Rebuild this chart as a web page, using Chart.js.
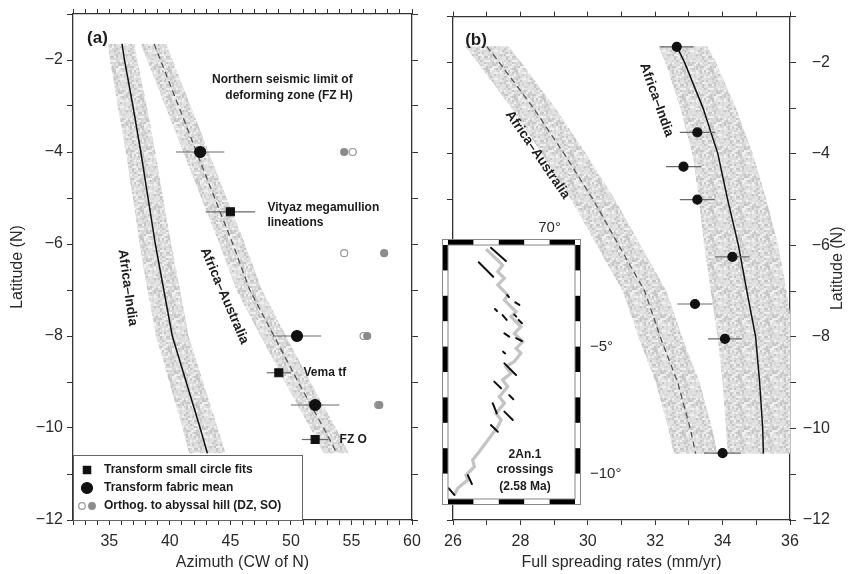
<!DOCTYPE html>
<html>
<head>
<meta charset="utf-8">
<script src="https://cdn.jsdelivr.net/npm/chart.js@4.4.1/dist/chart.umd.min.js"></script>
<style>
  html, body { margin: 0; padding: 0; background: #fff; }
  #wrap { position: relative; width: 855px; height: 574px; overflow: hidden; }
  canvas { position: absolute; }
  #azim { left: 0; top: 0; }
  #rates { left: 430px; top: 0; }
  #inset { left: 425px; top: 212px; }
</style>
</head>
<body>
<div id="wrap">
  <canvas id="azim" width="430" height="574"></canvas>
  <canvas id="rates" width="425" height="574"></canvas>
  <canvas id="inset" width="200" height="300"></canvas>
</div>
<script>
// panel (a): predicted azimuths along the ridge
const latA = [-1.65, -2, -3, -4, -5, -6, -7, -8, -9, -10, -10.55];
const indiaAzA = [36.05, 36.25, 36.95, 37.6, 38.2, 38.8, 39.5, 40.2, 41.35, 42.5, 43.1];
const indiaWestA = [34.9, 35.05, 35.7, 36.35, 36.95, 37.5, 38.15, 38.85, 39.95, 41.05, 41.6];
const indiaEastA = [37.1, 37.3, 38.1, 38.8, 39.45, 40.1, 40.85, 41.55, 42.75, 43.95, 44.6];
const ausAzA = [38.7, 39.22, 40.72, 42.2, 43.7, 45.2, 46.6, 48.6, 50.6, 52.7, 53.8];
const ausWestA = [37.6, 38.12, 39.62, 41.1, 42.6, 44.1, 45.5, 47.5, 49.5, 51.6, 52.7];
const ausEastA = [39.7, 40.22, 41.72, 43.2, 44.7, 46.2, 47.6, 49.6, 51.6, 53.7, 54.8];

// observed azimuths
const circleFitAz = [45.0, 49.0, 52.0];
const circleFitLat = [-5.3, -8.8, -10.25];
const circleFitErr = [2.05, 1.0, 1.1];
const fabricAz = [42.5, 50.5, 52.0];
const fabricLat = [-4, -8, -9.5];
const fabricErr = [2.0, 2.0, 2.0];
const hillDzAz = [55.1, 54.4, 56.0, 57.2];
const hillDzLat = [-4, -6.2, -8, -9.5];
const hillSoAz = [54.4, 57.7, 56.3, 57.3];
const hillSoLat = [-4, -6.2, -8, -9.5];

// panel (b): full spreading rates
const latB = [-1.65, -2, -3, -4, -5, -6, -7, -8, -9, -10, -10.55];
const indiaRateB = [32.64, 32.87, 33.42, 33.86, 34.15, 34.47, 34.72, 34.98, 35.10, 35.19, 35.21];
const indiaWestB = [32.1, 32.3, 32.75, 33.1, 33.3, 33.45, 33.65, 33.85, 34.0, 34.1, 34.15];
const indiaEastB = [33.55, 33.8, 34.4, 34.9, 35.3, 35.65, 35.9, 36.1, 36.2, 36.3, 36.3];
const ausRateB = [27.0, 27.37, 28.39, 29.3, 30.16, 30.92, 31.69, 32.15, 32.67, 33.04, 33.2];
const ausWestB = [26.35, 26.72, 27.74, 28.65, 29.51, 30.27, 31.04, 31.5, 32.02, 32.39, 32.55];
const ausEastB = [27.65, 28.02, 29.04, 29.95, 30.81, 31.57, 32.34, 32.8, 33.32, 33.69, 33.85];
const rateObs = [32.64, 33.25, 32.84, 33.25, 34.29, 33.18, 34.07, 34.0];
const rateObsLat = [-1.66, -3.53, -4.28, -5.0, -6.25, -7.28, -8.04, -10.54];
const rateObsErr = [0.5, 0.52, 0.52, 0.52, 0.51, 0.52, 0.5, 0.55];

// inset map: ridge trace and 2An.1 picks (lon, lat)
const ridgeLon = [67.50, 68.15, 67.96, 68.22, 67.96, 68.35, 68.22, 68.68, 68.48, 68.87, 68.61, 68.94, 68.68,
  68.87, 68.61, 68.28, 68.48, 68.15, 68.35, 68.02, 68.22, 67.89, 68.09, 67.96, 67.23, 66.97, 67.04, 66.71,
  66.78, 66.38, 66.25];
const ridgeLat = [-1.16, -1.79, -2.05, -2.31, -2.57, -2.97, -3.17, -3.63, -3.82, -4.22, -4.48, -4.81, -5.07,
  -5.26, -5.59, -5.79, -6.05, -6.31, -6.58, -6.97, -7.23, -7.63, -7.89, -8.15, -9.14, -9.46, -9.73, -10.06,
  -10.25, -10.58, -10.84];
const pickLon0 = [67.69, 67.21, 68.33, 68.65, 67.85, 68.15, 68.61, 68.78, 68.22, 68.68, 68.17, 68.22, 67.82,
  68.41, 67.76, 68.22, 67.69, 66.78, 66.03];
const pickLat0 = [-1.11, -1.68, -2.97, -3.26, -3.52, -3.76, -3.74, -3.95, -4.48, -4.67, -5.20, -5.66, -6.38,
  -6.91, -7.23, -7.56, -8.09, -10.06, -10.58];
const pickLon1 = [68.28, 67.78, 68.40, 68.81, 67.93, 68.31, 68.69, 68.91, 68.41, 68.91, 68.25, 68.68, 68.09,
  68.57, 67.92, 68.55, 67.96, 66.94, 66.25];
const pickLat1 = [-1.63, -2.25, -3.05, -3.36, -3.60, -3.95, -3.82, -4.08, -4.61, -4.78, -5.27, -6.12, -6.64,
  -7.07, -7.63, -7.89, -8.35, -10.41, -10.84];

Chart.defaults.font.family = '"Liberation Sans", Arial, Helvetica, sans-serif';
Chart.defaults.color = '#222';
Chart.defaults.animation = false;
Chart.defaults.plugins.legend.display = false;
Chart.defaults.plugins.tooltip.enabled = false;

const INK = '#2a2a2a';
const MINUS = '\u2212';
const FONT = '"Liberation Sans", Arial, sans-serif';

// grainy light grey used for the uncertainty bands (fixed hash, 2px grains)
function stipple() {
  const n = 14, cell = 2;
  const c = document.createElement('canvas');
  c.width = c.height = n * cell;
  const g = c.getContext('2d');
  for (let j = 0; j < n; j++) {
    for (let i = 0; i < n; i++) {
      const h = Math.abs(Math.sin(i * 12.9898 + j * 78.233) * 43758.5453) % 1;
      g.fillStyle = h < 0.15 ? '#c6c6c6' : h < 0.45 ? '#d7d7d7' : h < 0.8 ? '#e2e2e2' : '#f0f0f0';
      g.fillRect(i * cell, j * cell, cell, cell);
    }
  }
  return g.createPattern(c, 'repeat');
}
const speckle = stipple();

const pts = (xs, ys) => xs.map((x, i) => ({ x, y: ys[i] }));

function band(lat, west, east) {
  const poly = lat.map((y, i) => ({ x: west[i], y }));
  for (let i = lat.length - 1; i >= 0; i--) poly.push({ x: east[i], y: lat[i] });
  return { data: poly, showLine: true, fill: 'shape', backgroundColor: speckle,
    borderColor: 'rgba(0,0,0,0)', borderWidth: 0, pointRadius: 0, order: 10 };
}

function trend(xs, lat, dash) {
  return { data: pts(xs, lat), showLine: true, borderColor: dash ? '#555' : '#111',
    borderWidth: dash ? 1.3 : 1.5, borderDash: dash ? [6, 4] : [], pointRadius: 0, order: 5 };
}

function errorBars(xs, ys, err) {
  return xs.map((x, i) => ({
    data: [{ x: x - err[i], y: ys[i] }, { x: x + err[i], y: ys[i] }],
    showLine: true, borderColor: '#6a6a6a', borderWidth: 1.2, pointRadius: 0, order: 3
  }));
}

function markers(xs, ys, style, r, fill, edge) {
  return { data: pts(xs, ys), showLine: false, pointStyle: style, pointRadius: r,
    backgroundColor: fill, borderColor: edge || fill, borderWidth: 1.2, order: 1 };
}

// boxed axes with outward ticks on all four sides
function axis(pos, min, max, opts) {
  const vertical = pos === 'left' || pos === 'right';
  return {
    type: 'linear', position: pos, min, max,
    ticks: {
      stepSize: 1, autoSkip: false, maxRotation: 0, display: !!opts.label,
      padding: opts.pad || 6, font: { size: 16 }, color: INK,
      crossAlign: pos === 'right' ? 'far' : 'near',
      callback: opts.label || (() => '')
    },
    grid: { drawOnChartArea: false, drawTicks: true, tickLength: vertical ? 6 : 5, color: '#333', lineWidth: 1 },
    border: { display: true, color: '#333', width: 1.3 },
    title: opts.title ? { display: true, text: opts.title, font: { size: 16 }, color: INK,
      padding: opts.titlePad || { top: 0, bottom: 0 } } : { display: false },
    afterFit: s => { if (vertical) s.width = opts.size; else s.height = opts.size; }
  };
}

const every = n => v => (Math.round(v) % n === 0 ? (v < 0 ? MINUS + Math.abs(Math.round(v)) : String(Math.round(v))) : '');

function notes(items) {
  return {
    id: 'notes',
    afterDatasetsDraw(chart) {
      const { ctx, scales } = chart;
      items.forEach(n => {
        const px = scales.x.getPixelForValue(n.x);
        const py = scales.y.getPixelForValue(n.y);
        ctx.save();
        ctx.translate(px, py);
        if (n.rot) ctx.rotate(n.rot * Math.PI / 180);
        ctx.font = 'bold ' + (n.size || 12) + 'px ' + FONT;
        ctx.fillStyle = '#1c1c1c';
        ctx.textAlign = n.align || 'left';
        ctx.textBaseline = 'middle';
        ctx.fillText(n.text, 0, 0);
        ctx.restore();
      });
    }
  };
}

// ---------- (a) azimuth panel ----------
const legendA = {
  id: 'legendA',
  afterDatasetsDraw(chart) {
    const { ctx, chartArea: ca } = chart;
    const L = ca.left, B = ca.bottom, T = B - 65, W = 229;
    ctx.save();
    ctx.fillStyle = '#fff';
    ctx.fillRect(L, T, W, B - T);
    ctx.strokeStyle = '#666';
    ctx.lineWidth = 1;
    ctx.strokeRect(L + 0.5, T + 0.5, W, B - T);
    const row = [T + 15, T + 33, T + 51];
    const draw = (style, r, x, y, fill, edge) => {
      ctx.fillStyle = fill; ctx.strokeStyle = edge; ctx.lineWidth = 1.2;
      Chart.helpers.drawPoint(ctx, { pointStyle: style, radius: r, borderWidth: 1.2 }, x, y);
    };
    draw('rect', 5.2, L + 14, row[0], '#111', '#111');
    draw('circle', 5.5, L + 14, row[1], '#111', '#111');
    draw('circle', 3.3, L + 9, row[2], '#fff', '#999');
    draw('circle', 3.3, L + 19, row[2], '#8c8c8c', '#8c8c8c');
    ctx.font = 'bold 12px ' + FONT;
    ctx.fillStyle = '#1c1c1c';
    ctx.textBaseline = 'middle';
    ctx.fillText('Transform small circle fits', L + 31, row[0]);
    ctx.fillText('Transform fabric mean', L + 31, row[1]);
    ctx.fillText('Orthog. to abyssal hill (DZ, SO)', L + 31, row[2]);
    ctx.restore();
  }
};

new Chart(document.getElementById('azim'), {
  type: 'scatter',
  data: {
    datasets: [
      band(latA, indiaWestA, indiaEastA),
      band(latA, ausWestA, ausEastA),
      trend(indiaAzA, latA, false),
      trend(ausAzA, latA, true),
      ...errorBars(fabricAz, fabricLat, fabricErr),
      ...errorBars(circleFitAz, circleFitLat, circleFitErr),
      markers(hillSoAz, hillSoLat, 'circle', 3.5, '#8c8c8c'),
      markers(hillDzAz, hillDzLat, 'circle', 3.5, '#fff', '#999'),
      markers(fabricAz, fabricLat, 'circle', 5.5, '#111'),
      markers(circleFitAz, circleFitLat, 'rect', 5.6, '#111')
    ]
  },
  options: {
    responsive: false,
    layout: { padding: 0 },
    scales: {
      x: axis('bottom', 32, 60, { label: every(5), size: 54, pad: 7, title: 'Azimuth (CW of N)', titlePad: { top: 0, bottom: 2 } }),
      xt: axis('top', 32, 60, { size: 14 }),
      y: axis('left', -12, -1, { label: every(2), size: 73, pad: 4, title: 'Latitude (N)', titlePad: { top: 8, bottom: 0 } }),
      yr: axis('right', -12, -1, { size: 18 })
    }
  },
  plugins: [notes([
    { text: '(a)', x: 33.16, y: -1.52, size: 17 },
    { text: 'Northern seismic limit of', x: 55.1, y: -2.43, align: 'right' },
    { text: 'deforming zone (FZ H)', x: 55.1, y: -2.77, align: 'right' },
    { text: 'Vityaz megamullion', x: 48.06, y: -5.22 },
    { text: 'lineations', x: 48.06, y: -5.54 },
    { text: 'Vema tf', x: 51.04, y: -8.8 },
    { text: 'FZ O', x: 54.02, y: -10.26 },
    { text: 'Africa\u2013India', x: 36.5, y: -6.95, align: 'center', rot: 82, size: 13.5 },
    { text: 'Africa\u2013Australia', x: 44.5, y: -7.13, align: 'center', rot: 66.7, size: 13.5 }
  ]), legendA]
});

// ---------- (b) spreading-rate panel ----------
const rightTitle = {
  id: 'rightTitle',
  afterDraw(chart) {
    const { ctx, chartArea: ca } = chart;
    ctx.save();
    ctx.translate(408, (ca.top + ca.bottom) / 2);
    ctx.rotate(-Math.PI / 2);
    ctx.font = '16px ' + FONT;
    ctx.fillStyle = INK;
    ctx.textAlign = 'center';
    ctx.textBaseline = 'middle';
    ctx.fillText('Latitude (N)', 0, 0);
    ctx.restore();
  }
};

new Chart(document.getElementById('rates'), {
  type: 'scatter',
  data: {
    datasets: [
      band(latB, indiaWestB, indiaEastB),
      band(latB, ausWestB, ausEastB),
      trend(indiaRateB, latB, false),
      trend(ausRateB, latB, true),
      ...errorBars(rateObs, rateObsLat, rateObsErr),
      markers(rateObs, rateObsLat, 'circle', 4.5, '#111')
    ]
  },
  options: {
    responsive: false,
    layout: { padding: { left: 0, top: 0, bottom: 0, right: 25 } },
    scales: {
      x: axis('bottom', 26, 36, { label: every(2), size: 54, pad: 7, title: 'Full spreading rates (mm/yr)', titlePad: { top: 0, bottom: 2 } }),
      xt: axis('top', 26, 36, { size: 14 }),
      y: axis('left', -12, -1, { size: 23 }),
      yr: axis('right', -12, -1, { label: every(2), size: 40, pad: 7 })
    }
  },
  plugins: [notes([
    { text: '(b)', x: 26.36, y: -1.52, size: 17 },
    { text: 'Africa\u2013Australia', x: 28.51, y: -4.02, align: 'center', rot: 55.6, size: 13.5 },
    { text: 'Africa\u2013India', x: 32.04, y: -2.82, align: 'center', rot: 70.3, size: 13.5 }
  ]), rightTitle]
});

// ---------- inset map of 2An.1 crossings ----------
const mapFrame = {
  id: 'mapFrame',
  beforeDatasetsDraw(chart) {
    const { ctx, chartArea: ca } = chart;
    ctx.save();
    ctx.fillStyle = '#fff';
    ctx.fillRect(ca.left - 6, ca.top - 6, ca.width + 12, ca.height + 12);
    ctx.restore();
  },
  afterDatasetsDraw(chart) {
    const { ctx, chartArea: ca, scales } = chart;
    const w = 6;
    ctx.save();
    ctx.fillStyle = '#000';
    for (let lon = 66; lon < 71; lon += 2) {
      const a = scales.x.getPixelForValue(lon), b = scales.x.getPixelForValue(lon + 1);
      ctx.fillRect(a, ca.top - w, b - a, w);
      ctx.fillRect(a, ca.bottom, b - a, w);
    }
    for (let lat = -1; lat > -11; lat -= 2) {
      const a = scales.y.getPixelForValue(lat), b = scales.y.getPixelForValue(lat - 1);
      ctx.fillRect(ca.left - w, a, w, b - a);
      ctx.fillRect(ca.right, a, w, b - a);
    }
    ctx.strokeStyle = '#888';
    ctx.lineWidth = 1;
    ctx.strokeRect(ca.left - w + 0.5, ca.top - w + 0.5, ca.width + 2 * w - 1, ca.height + 2 * w - 1);
    ctx.strokeRect(ca.left, ca.top, ca.width, ca.height);

    // graticule labels
    ctx.font = '15px ' + FONT;
    ctx.fillStyle = INK;
    ctx.textBaseline = 'middle';
    ctx.textAlign = 'center';
    ctx.fillText('70\u00b0', scales.x.getPixelForValue(70), ca.top - 17);
    ctx.textAlign = 'left';
    [-5, -10].forEach(lat => ctx.fillText(MINUS + Math.abs(lat) + '\u00b0', ca.right + 15, scales.y.getPixelForValue(lat)));
    ctx.restore();
  }
};

const picks = pickLon0.map((x, i) => ({
  data: [{ x, y: pickLat0[i] }, { x: pickLon1[i], y: pickLat1[i] }],
  showLine: true, borderColor: '#111', borderWidth: 2, borderCapStyle: 'round', pointRadius: 0, order: 1
}));

new Chart(document.getElementById('inset'), {
  type: 'scatter',
  data: {
    datasets: [
      { data: pts(ridgeLon, ridgeLat), showLine: true, borderColor: '#c4c4c4', borderWidth: 3.2,
        pointRadius: 0, order: 5 },
      ...picks
    ]
  },
  options: {
    responsive: false,
    layout: { padding: { left: 23, top: 33, right: 50, bottom: 13 } },
    scales: {
      x: { type: 'linear', display: false, min: 66, max: 71 },
      y: { type: 'linear', display: false, min: -11, max: -1 }
    }
  },
  plugins: [mapFrame, notes([
    { text: '2An.1', x: 69.03, y: -9.27, align: 'center' },
    { text: 'crossings', x: 69.03, y: -9.86, align: 'center' },
    { text: '(2.58 Ma)', x: 69.03, y: -10.53, align: 'center' }
  ])]
});
</script>
</body>
</html>
